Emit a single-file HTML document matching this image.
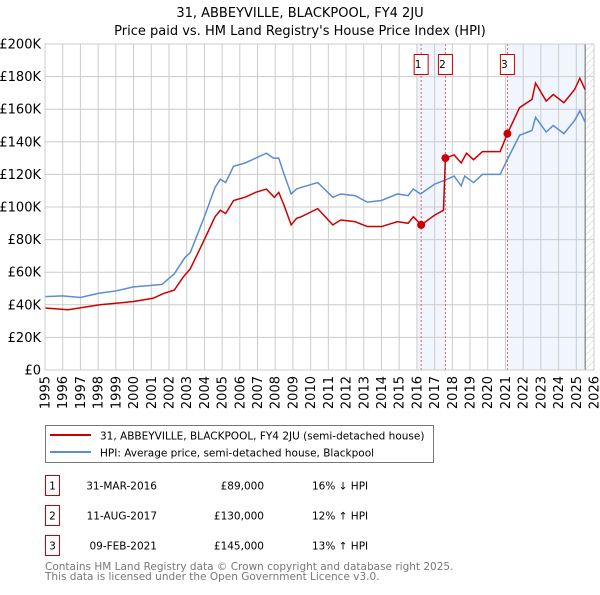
<!DOCTYPE html>
<html><head><meta charset="utf-8"><style>
body{margin:0;background:#fff;}
svg{font-family:"DejaVu Sans","Liberation Sans",sans-serif;}
</style></head><body>
<svg id="c" width="600" height="590" xmlns="http://www.w3.org/2000/svg">
<defs><pattern id="h" width="5" height="5" patternUnits="userSpaceOnUse" patternTransform="rotate(45)"><line x1="0" y1="0" x2="0" y2="5" stroke="#ccc" stroke-width="1"/></pattern></defs>
<text x="300" y="17" text-anchor="middle" font-size="13">31, ABBEYVILLE, BLACKPOOL, FY4 2JU</text>
<text x="300" y="35" text-anchor="middle" font-size="13">Price paid vs. HM Land Registry's House Price Index (HPI)</text>
<g id="plot"></g>
<rect x="45.5" y="425.5" width="388" height="37" fill="#fff" stroke="#777"/>
<line x1="50" y1="435" x2="91" y2="435" stroke="#cc0000" stroke-width="2"/>
<text x="100" y="439.5" font-size="10.5">31, ABBEYVILLE, BLACKPOOL, FY4 2JU (semi-detached house)</text>
<line x1="50" y1="452" x2="91" y2="452" stroke="#5b8dd0" stroke-width="2"/>
<text x="100" y="456.5" font-size="10.5">HPI: Average price, semi-detached house, Blackpool</text>
<g font-size="10.5">
<rect x="45.5" y="475.5" width="14" height="20" fill="none" stroke="#cc0000"/><text x="52.5" y="489.5" text-anchor="middle">1</text>
<text x="157" y="489.5" text-anchor="end">31-MAR-2016</text><text x="264" y="489.5" text-anchor="end">£89,000</text><text x="312" y="489.5">16% ↓ HPI</text>
<rect x="45.5" y="505.5" width="14" height="20" fill="none" stroke="#cc0000"/><text x="52.5" y="519.5" text-anchor="middle">2</text>
<text x="157" y="519.5" text-anchor="end">11-AUG-2017</text><text x="264" y="519.5" text-anchor="end">£130,000</text><text x="312" y="519.5">12% ↑ HPI</text>
<rect x="45.5" y="535.5" width="14" height="20" fill="none" stroke="#cc0000"/><text x="52.5" y="549.5" text-anchor="middle">3</text>
<text x="157" y="549.5" text-anchor="end">09-FEB-2021</text><text x="264" y="549.5" text-anchor="end">£145,000</text><text x="312" y="549.5">13% ↑ HPI</text>
</g>
<text x="45" y="570" font-size="10.5" fill="#777">Contains HM Land Registry data © Crown copyright and database right 2025.</text>
<text x="45" y="580" font-size="10.5" fill="#777">This data is licensed under the Open Government Licence v3.0.</text>
</svg>
<script>
const hpiYears=[1995,1996,1997,1998,1999,2000,2001.1,2001.6,2002.3,2002.9,2003.2,2004,2004.6,2004.9,2005.2,2005.65,2006.3,2006.9,2007.5,2007.9,2008.2,2008.5,2008.9,2009.2,2009.46,2010.4,2011.25,2011.7,2012.5,2013.2,2014,2014.9,2015.5,2015.8,2016.2,2017,2017.7,2018.1,2018.5,2018.7,2019.2,2019.7,2020.7,2021.1,2021.8,2022.5,2022.7,2023.3,2023.7,2024.3,2024.9,2025.2,2025.5];
const hpiValues=[45,45.5,44.5,47,48.5,51,52,52.5,59,69,72,94,112,117,115,125,127,130,133,130,130,120,108,111,112,115,106,108,107,103,104,108,107,111,108,114,117,119,113,119,115,120,120,129,144,147,155,146,150,145,153,159,152];
const ppYears=[1995,1996.3,1998.1,2000,2001.1,2001.7,2002.3,2002.8,2003.2,2004,2004.6,2004.9,2005.2,2005.65,2006.3,2006.9,2007.5,2007.95,2008.2,2008.5,2008.9,2009.2,2009.46,2010.4,2011.25,2011.7,2012.5,2013.2,2014,2014.9,2015.5,2015.8,2016.24,2017,2017.5,2017.61,2018.1,2018.5,2018.8,2019.2,2019.7,2020.7,2021.11,2021.8,2022.5,2022.7,2023.3,2023.7,2024.3,2024.9,2025.2,2025.5];
const ppValues=[38,37,40,42,44,47,49,57,62,80,94,98,96,104,106,109,111,106,109,101,89,93,94,99,89,92,91,88,88,91,90,94,89,95,98,130,132,127,133,129,134,134,145,161,166,176,165,169,164,172,179,172];
const saleYears=[2016.24,2017.61,2021.11];
const saleValues=[89,130,145];
const saleLabels=["1","2","3"];
const yTicks=[0,20,40,60,80,100,120,140,160,180,200];
const xTicks=[1995,1996,1997,1998,1999,2000,2001,2002,2003,2004,2005,2006,2007,2008,2009,2010,2011,2012,2013,2014,2015,2016,2017,2018,2019,2020,2021,2022,2023,2024,2025,2026];
const NS="http://www.w3.org/2000/svg";
const X0=45,X1=594,Y0=370,Y1=44;
const x=y=>X0+(y-1995)/(2026-1995)*(X1-X0);
const yv=v=>Y0-v/200*(Y0-Y1);
const g=document.getElementById('plot');
function mk(t,a){const e=document.createElementNS(NS,t);for(const k in a)e.setAttribute(k,a[k]);g.appendChild(e);return e;}
let e;
e=mk('rect',{x:x(2016.0),y:Y1,width:x(saleYears[1])-x(2016.0),height:Y0-Y1,fill:'#eef3fc',opacity:0.8});


e=mk('rect',{x:x(saleYears[2]),y:Y1,width:x(2025.5)-x(saleYears[2]),height:Y0-Y1,fill:'#eef3fc',opacity:0.8});


e=mk('rect',{x:x(2025.5),y:Y1,width:X1-x(2025.5),height:Y0-Y1,fill:'url(#h)'});


yTicks.forEach(t=>{
 e=mk('line',{x1:X0,x2:X1,y1:yv(t),y2:yv(t),stroke:'#ccc'});
 
 
 e=mk('text',{x:X0-4,y:yv(t)+4.5,'text-anchor':'end','font-size':13});
 e.textContent=t===0?'£0':'£'+t+'K';
 
 
});
xTicks.forEach(t=>{
 e=mk('line',{x1:x(t),x2:x(t),y1:Y1,y2:Y0,stroke:'#ccc'});
 
 
 e=mk('text',{x:0,y:0,'text-anchor':'end','font-size':13,transform:`translate(${x(t)+4.5},${Y0+6}) rotate(-90)`});
 e.textContent=t;
 
 
});
e=mk('line',{x1:x(2025.5),x2:x(2025.5),y1:Y1,y2:Y0,stroke:'#666'});


saleYears.forEach((s,i)=>{
 e=mk('line',{x1:x(s),x2:x(s),y1:Y1,y2:Y0,stroke:'#e06060','stroke-dasharray':'2,2'});
 
 
});
e=mk('polyline',{points:hpiYears.map((t,i)=>x(t)+','+yv(hpiValues[i])).join(' '),fill:'none',stroke:'#5b8dd0','stroke-width':1.5});


e=mk('polyline',{points:ppYears.map((t,i)=>x(t)+','+yv(ppValues[i])).join(' '),fill:'none',stroke:'#cc0000','stroke-width':1.5});


saleYears.forEach((s,i)=>{
 e=mk('circle',{cx:x(s),cy:yv(saleValues[i]),r:4,fill:'#cc0000'});
 
 
 e=mk('rect',{x:x(s)-7,y:54.5,width:14,height:20,fill:'#fff',stroke:'#cc0000'});
 
 
 e=mk('text',{x:x(s)-3,y:68,'text-anchor':'middle','font-size':10.5});
 e.textContent=saleLabels[i];
 
 
});
e=mk('rect',{x:X0,y:Y1,width:X1-X0,height:Y0-Y1,fill:'none',stroke:'#ccc'});


</script>
</body></html>
